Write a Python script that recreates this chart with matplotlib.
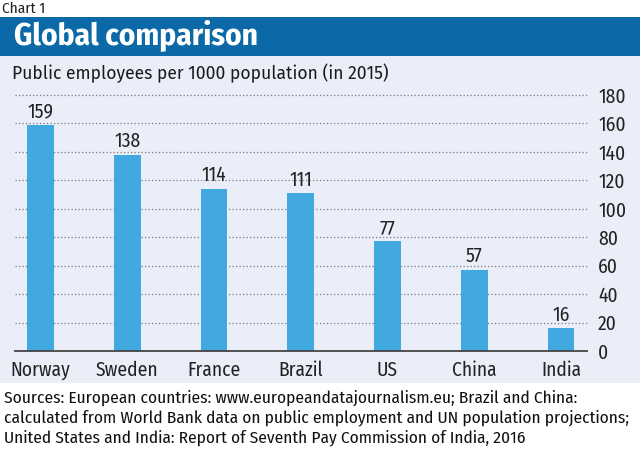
import matplotlib
matplotlib.use("Agg")
import matplotlib.pyplot as plt
from matplotlib.patches import Rectangle

countries = ["Norway", "Sweden", "France", "Brazil", "US", "China", "India"]
values = [159, 138, 114, 111, 77, 57, 16]
yticks = [0, 20, 40, 60, 80, 100, 120, 140, 160, 180]

title = "Global comparison"
subtitle = "Public employees per 1000 population (in 2015)"
sources = ("Sources: European countries: www.europeandatajournalism.eu; Brazil and China:\n"
           "calculated from World Bank data on public employment and UN population projections;\n"
           "United States and India: Report of Seventh Pay Commission of India, 2016")

plt.rcParams["font.family"] = ["Fira Sans Condensed", "DejaVu Sans"]

W, H = 640, 449
fig = plt.figure(figsize=(W / 100, H / 100), dpi=100)
fig.patch.set_facecolor("white")

# background bands: blue title strip and pale chart panel
fig.patches.append(Rectangle((0, 1 - 56 / H), 1, 39 / H, transform=fig.transFigure,
                             facecolor="#0b69a7", edgecolor="none", zorder=-2))
fig.patches.append(Rectangle((0, 1 - 383 / H), 1, 327 / H, transform=fig.transFigure,
                             facecolor="#e9eef8", edgecolor="none", zorder=-2))

fig.text(2 / W, 1 - 9 / H, "Chart 1", fontsize=11, va="center", ha="left", color="#222222")
fig.text(14 / W, 1 - 35 / H, title, fontsize=22.5, fontweight="bold", color="white",
         va="center", ha="left")
fig.text(12 / W, 1 - 73 / H, subtitle, fontsize=12.6, va="center", ha="left",
         color="#1a1a1a", family=["Fira Sans", "DejaVu Sans"])
fig.text(4 / W, 1 - 418 / H, sources, fontsize=12.5, va="center", ha="left",
         color="#111111", linespacing=1.25)

ax = fig.add_axes([15 / W, 1 - 351 / H, 572 / W, 256 / H])
ax.set_facecolor("none")
x = list(range(len(countries)))
ax.bar(x, values, width=0.31, color="#41a8e0", zorder=3)
for xi, v in zip(x, values):
    ax.text(xi, v + 2.5, str(v), ha="center", va="bottom", fontsize=14, color="#222222", zorder=4)

ax.set_xlim(-0.294, 6.30)
ax.set_ylim(0, 180)
for t in yticks[1:]:
    ax.axhline(t, color="#7a7a7a", linestyle=(0, (1, 1.8)), linewidth=0.9, zorder=1, clip_on=False)
ax.axhline(0, color="#444444", linewidth=1.3, zorder=5, clip_on=False)

ax.yaxis.tick_right()
ax.set_yticks(yticks)
ax.set_yticklabels([str(t) for t in yticks], fontsize=14, color="#222222")
ax.set_xticks(x)
ax.set_xticklabels(countries, fontsize=14, color="#222222")
ax.tick_params(axis="both", length=0)
ax.tick_params(axis="y", pad=8)
ax.tick_params(axis="x", pad=7)
for s in ax.spines.values():
    s.set_visible(False)

fig.savefig("out.png", dpi=100, facecolor="white")
